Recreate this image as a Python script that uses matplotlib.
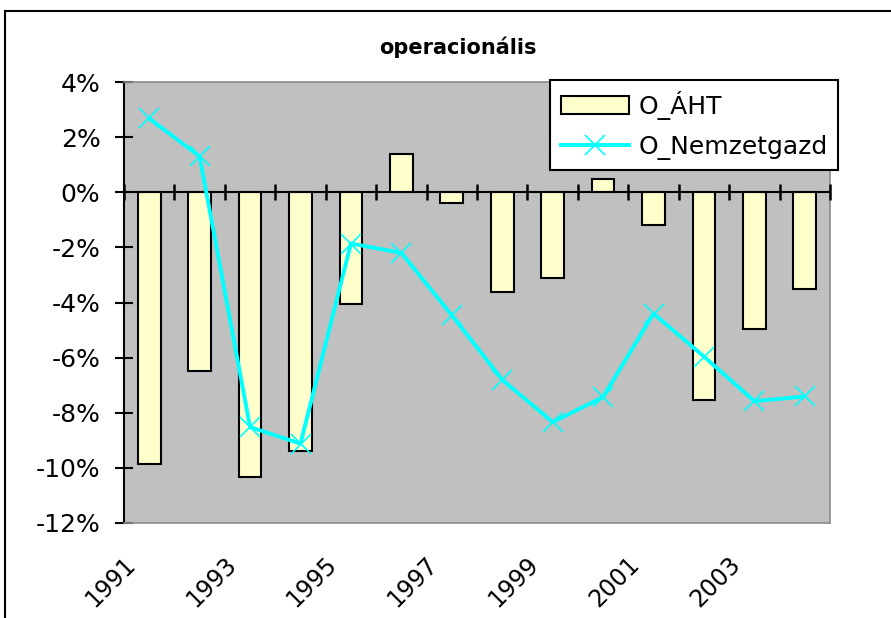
import matplotlib
matplotlib.use("Agg")
import matplotlib.pyplot as plt
from matplotlib.lines import Line2D
from matplotlib.transforms import ScaledTranslation

plt.rcParams['font.family'] = ['DejaVu Sans']

years = [str(y) for y in range(1991, 2005)]
o_aht = [-9.87, -6.49, -10.33, -9.39, -4.07, 1.38, -0.39, -3.62, -3.11, 0.47, -1.2, -7.53, -4.97, -3.52]
o_nemzetgazd = [2.68, 1.3, -8.52, -9.12, -1.86, -2.2, -4.46, -6.8, -8.34, -7.43, -4.4, -5.96, -7.58, -7.41]
y_ticks = [4, 2, 0, -2, -4, -6, -8, -10, -12]
title = "operacionális"

W, H = 891, 618
fig = plt.figure(figsize=(W / 100, H / 100), dpi=100)
fig.patch.set_facecolor('white')

ax = fig.add_axes([124 / W, 1 - 523 / H, 706 / W, 441 / H])
ax.set_facecolor('#C0C0C0')

n = len(years)
x = list(range(n))
bars = ax.bar(x, o_aht, width=0.45, color='#FFFFCC', edgecolor='black', linewidth=1.5,
              zorder=2, label='O_ÁHT')
ax.axhline(0, color='black', linewidth=1.5, zorder=3)
bounds = [i - 0.5 for i in range(n + 1)]
ax.plot(bounds, [0] * len(bounds), linestyle='none', marker='|', markersize=12,
        markeredgewidth=1.8, color='black', zorder=3, clip_on=False)
line, = ax.plot(x, o_nemzetgazd, color='#00FFFF', linewidth=2.8, marker='x', markersize=14,
                markeredgewidth=1.2, zorder=4, label='O_Nemzetgazd')

ax.set_xlim(-0.5, n - 0.5)
ax.set_ylim(-12, 4)
ax.set_yticks(y_ticks)
ax.set_yticklabels([f"{v}%" for v in y_ticks], fontsize=18)
ax.tick_params(axis='y', direction='inout', length=13, width=1.5, pad=10.5, colors='black')

ax.set_xticks(x[::2])
ax.set_xticklabels(years[::2], rotation=45, ha='right', fontsize=17)
ax.tick_params(axis='x', length=0, pad=21)
off = ScaledTranslation(-9 / 100, 0, fig.dpi_scale_trans)
for lab in ax.get_xticklabels():
    lab.set_transform(lab.get_transform() + off)

for s in ['top', 'right', 'bottom']:
    ax.spines[s].set_color('#8C8C8C')
    ax.spines[s].set_linewidth(1.2)
ax.spines['left'].set_color('black')
ax.spines['left'].set_linewidth(1.5)

fig.text(458 / W, 1 - 47 / H, title, ha='center', va='center', fontsize=15,
         fontweight='bold')

leg = ax.legend([bars, line], ['O_ÁHT', 'O_Nemzetgazd'],
                loc='upper right', bbox_to_anchor=(838 / W, 1 - 80 / H),
                bbox_transform=fig.transFigure, borderaxespad=0, fontsize=18,
                frameon=True, fancybox=False, framealpha=1, edgecolor='black',
                handlelength=2.75, handletextpad=0.36, labelspacing=0.6,
                borderpad=0.42)
leg.get_frame().set_linewidth(1.5)

fig.add_artist(Line2D([5 / W, 1], [1 - 11 / H, 1 - 11 / H], color='black', linewidth=1.5,
                      transform=fig.transFigure))
fig.add_artist(Line2D([5 / W, 5 / W], [0, 1 - 11 / H], color='black', linewidth=1.5,
                      transform=fig.transFigure))

fig.savefig('out.png', dpi=100)
